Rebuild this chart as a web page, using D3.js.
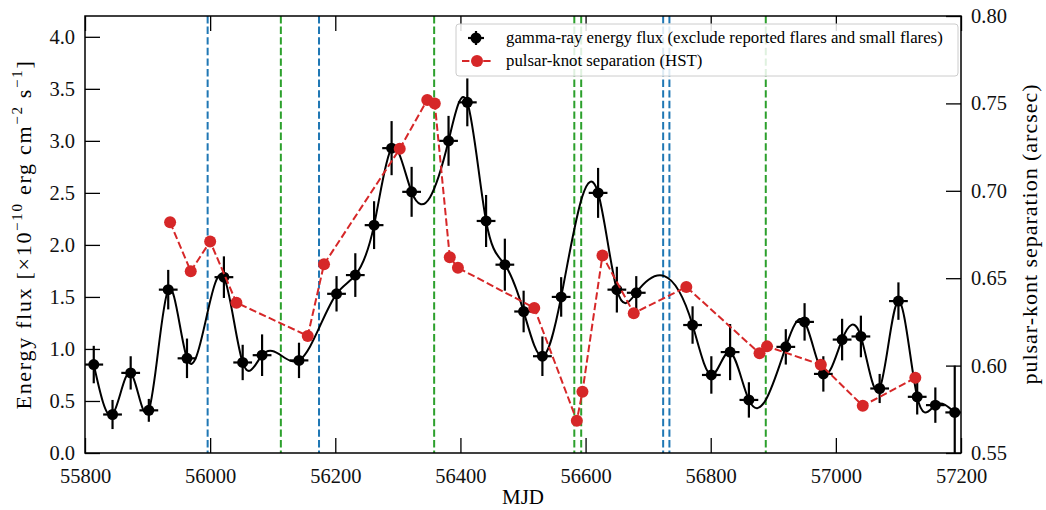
<!DOCTYPE html>
<html>
<head>
<meta charset="utf-8">
<script src="https://cdn.jsdelivr.net/npm/d3@7"></script>
<style>
  body { margin: 0; background: #fff; }
  text { font-family: "Liberation Serif", "DejaVu Serif", serif; }
</style>
</head>
<body>
<svg id="chart" width="1046" height="510"></svg>
<script>
// gamma-ray flux (30 day bins, flares removed)
var fluxMjd = [55814, 55844, 55873, 55902, 55933, 55963, 56022, 56052, 56083, 56142,
  56202, 56232, 56262, 56290, 56322, 56381, 56411, 56441, 56471, 56501,
  56531, 56561, 56620, 56650, 56681, 56771, 56801, 56831, 56861, 56920,
  56950, 56980, 57010, 57040, 57070, 57100, 57130, 57159, 57190];
var fluxVal = [0.85, 0.37, 0.77, 0.41, 1.57, 0.91, 1.69, 0.87, 0.94, 0.89,
  1.53, 1.71, 2.19, 2.93, 2.51, 3.00, 3.37, 2.23, 1.81, 1.36,
  0.93, 1.50, 2.50, 1.57, 1.54, 1.23, 0.75, 0.97, 0.51, 1.02,
  1.26, 0.76, 1.09, 1.12, 0.62, 1.46, 0.54, 0.46, 0.39];
var fluxErr = [0.18, 0.14, 0.16, 0.11, 0.19, 0.19, 0.20, 0.17, 0.20, 0.17,
  0.17, 0.21, 0.23, 0.26, 0.24, 0.24, 0.23, 0.25, 0.25, 0.20,
  0.19, 0.19, 0.24, 0.22, 0.16, 0.18, 0.18, 0.27, 0.17, 0.17,
  0.18, 0.17, 0.20, 0.20, 0.14, 0.18, 0.17, 0.17, 0.45];
var binHalf = 15;

// pulsar-knot separation (HST)
var sepMjd = [55936, 55969, 56000, 56042, 56156, 56182, 56303, 56347, 56359, 56383,
  56396, 56518, 56586, 56595, 56627, 56677, 56761, 56878, 56890, 56976,
  57043, 57127];
var sepVal = [0.682, 0.654, 0.671, 0.636, 0.617, 0.658, 0.724, 0.752, 0.750, 0.662,
  0.656, 0.633, 0.5685, 0.585, 0.663, 0.630, 0.645, 0.607, 0.611, 0.6005,
  0.577, 0.593];

var blueLines = [55996, 56174, 56724, 56734];
var greenLines = [56113, 56358, 56582, 56593, 56888];

var xTicks = [55800, 56000, 56200, 56400, 56600, 56800, 57000, 57200];
var yTicks = [0, 0.5, 1.0, 1.5, 2.0, 2.5, 3.0, 3.5, 4.0];
var y2Ticks = [0.55, 0.60, 0.65, 0.70, 0.75, 0.80];

var colBlue = "#1f77b4", colGreen = "#2ca02c", colRed = "#d62728";
var padL = 85, padR = 961, padT = 16, padB = 453;

var svg = d3.select("#chart");

var x = d3.scaleLinear().domain([55800, 57200]).range([padL, padR]);
var y = d3.scaleLinear().domain([0, 4.2]).range([padB, padT]);
var y2 = d3.scaleLinear().domain([0.55, 0.80]).range([padB, padT]);

svg.append("clipPath").attr("id", "clip")
  .append("rect").attr("x", padL).attr("y", padT)
  .attr("width", padR - padL).attr("height", padB - padT);

// natural cubic spline in x, drawn as bezier pieces
function curveSplineX(context) {
  var xs, ys;
  return {
    areaStart: function(){}, areaEnd: function(){},
    lineStart: function(){ xs = []; ys = []; },
    point: function(px, py){ xs.push(+px); ys.push(+py); },
    lineEnd: function(){
      var n = xs.length, i;
      var h = [], M = new Array(n).fill(0);
      for (i = 0; i < n - 1; i++) h.push(xs[i+1] - xs[i]);
      // tridiagonal solve for second derivatives
      var a = [], b = [], c = [], d = [];
      for (i = 1; i < n - 1; i++) {
        a.push(h[i-1]); b.push(2 * (h[i-1] + h[i])); c.push(h[i]);
        d.push(6 * ((ys[i+1] - ys[i]) / h[i] - (ys[i] - ys[i-1]) / h[i-1]));
      }
      var m = d.length;
      for (i = 1; i < m; i++) {
        var w = a[i] / b[i-1];
        b[i] -= w * c[i-1];
        d[i] -= w * d[i-1];
      }
      var sol = new Array(m);
      sol[m-1] = d[m-1] / b[m-1];
      for (i = m - 2; i >= 0; i--) sol[i] = (d[i] - c[i] * sol[i+1]) / b[i];
      for (i = 0; i < m; i++) M[i+1] = sol[i];
      context.moveTo(xs[0], ys[0]);
      for (i = 0; i < n - 1; i++) {
        var s = (ys[i+1] - ys[i]) / h[i];
        var d0 = s - h[i] * (2 * M[i] + M[i+1]) / 6;
        var d1 = s + h[i] * (M[i] + 2 * M[i+1]) / 6;
        context.bezierCurveTo(xs[i] + h[i] / 3, ys[i] + d0 * h[i] / 3,
          xs[i+1] - h[i] / 3, ys[i+1] - d1 * h[i] / 3, xs[i+1], ys[i+1]);
      }
    }
  };
}

var plot = svg.append("g").attr("clip-path", "url(#clip)");

// flare markers
plot.selectAll(".vb").data(blueLines).enter().append("line")
  .attr("x1", function(d){ return x(d); }).attr("x2", function(d){ return x(d); })
  .attr("y1", padT).attr("y2", padB)
  .attr("stroke", colBlue).attr("stroke-width", 2).attr("stroke-dasharray", "7.4,3.2");
plot.selectAll(".vg").data(greenLines).enter().append("line")
  .attr("x1", function(d){ return x(d); }).attr("x2", function(d){ return x(d); })
  .attr("y1", padT).attr("y2", padB)
  .attr("stroke", colGreen).attr("stroke-width", 2).attr("stroke-dasharray", "7.4,3.2");

var flux = fluxMjd.map(function(m, i){ return {m: m, v: fluxVal[i], e: fluxErr[i]}; });
var sep = sepMjd.map(function(m, i){ return {m: m, v: sepVal[i]}; });

plot.append("path").datum(flux)
  .attr("fill", "none").attr("stroke", "#000").attr("stroke-width", 2)
  .attr("d", d3.line().x(function(d){ return x(d.m); }).y(function(d){ return y(d.v); }).curve(curveSplineX));

var eb = plot.selectAll(".eb").data(flux).enter().append("g");
eb.append("line")
  .attr("x1", function(d){ return x(d.m); }).attr("x2", function(d){ return x(d.m); })
  .attr("y1", function(d){ return y(d.v - d.e); }).attr("y2", function(d){ return y(d.v + d.e); })
  .attr("stroke", "#000").attr("stroke-width", 2.2);
eb.append("line")
  .attr("x1", function(d){ return x(d.m - binHalf); }).attr("x2", function(d){ return x(d.m + binHalf); })
  .attr("y1", function(d){ return y(d.v); }).attr("y2", function(d){ return y(d.v); })
  .attr("stroke", "#000").attr("stroke-width", 2.2);
eb.append("circle")
  .attr("cx", function(d){ return x(d.m); }).attr("cy", function(d){ return y(d.v); })
  .attr("r", 5.5).attr("fill", "#000");

plot.append("path").datum(sep)
  .attr("fill", "none").attr("stroke", colRed).attr("stroke-width", 2)
  .attr("stroke-dasharray", "7.4,3.2")
  .attr("d", d3.line().x(function(d){ return x(d.m); }).y(function(d){ return y2(d.v); }));
plot.selectAll(".sp").data(sep).enter().append("circle")
  .attr("cx", function(d){ return x(d.m); }).attr("cy", function(d){ return y2(d.v); })
  .attr("r", 6).attr("fill", colRed);

// axes, ticks pointing in
function styleAxis(g) {
  g.select(".domain").remove();
  g.selectAll(".tick line").attr("stroke", "#000").attr("stroke-width", 1.3);
  g.selectAll(".tick text").attr("font-size", 20.5).attr("fill", "#111")
    .attr("font-family", "Liberation Serif, serif");
}
svg.append("g").attr("transform", "translate(0," + padB + ")")
  .call(d3.axisBottom(x).tickValues(xTicks).tickFormat(d3.format("d")).tickSize(-15).tickPadding(15))
  .call(styleAxis);
svg.append("g").attr("transform", "translate(0," + padT + ")")
  .call(d3.axisTop(x).tickValues(xTicks).tickFormat("").tickSize(-15))
  .call(styleAxis);
svg.append("g").attr("transform", "translate(" + padL + ",0)")
  .call(d3.axisLeft(y).tickValues(yTicks).tickFormat(d3.format(".1f")).tickSize(-15).tickPadding(10))
  .call(styleAxis);
svg.append("g").attr("transform", "translate(" + padR + ",0)")
  .call(d3.axisRight(y2).tickValues(y2Ticks).tickFormat(d3.format(".2f")).tickSize(-15).tickPadding(10))
  .call(styleAxis);

svg.append("rect").attr("x", padL).attr("y", padT)
  .attr("width", padR - padL).attr("height", padB - padT)
  .attr("fill", "none").attr("stroke", "#000").attr("stroke-width", 1.5);

// axis labels
svg.append("text").attr("x", (padL + padR) / 2).attr("y", 504)
  .attr("text-anchor", "middle").attr("font-size", 21).text("MJD");

var yl = svg.append("text")
  .attr("transform", "translate(31," + ((padT + padB) / 2) + ") rotate(-90)")
  .attr("text-anchor", "middle").attr("font-size", 22);
yl.append("tspan").text("Energy flux [\u00d710");
yl.append("tspan").attr("dy", -9).attr("font-size", 15).text("\u221210");
yl.append("tspan").attr("dy", 9).text(" erg cm");
yl.append("tspan").attr("dy", -9).attr("font-size", 15).text("\u22122");
yl.append("tspan").attr("dy", 9).text(" s");
yl.append("tspan").attr("dy", -9).attr("font-size", 15).text("\u22121");
yl.append("tspan").attr("dy", 9).text("]");
// stretch to the width of the original label
var ylLen = yl.node().getComputedTextLength();
var ylChars = yl.text().length;
yl.attr("letter-spacing", Math.max(0, (350 - ylLen) / ylChars));

svg.append("text")
  .attr("transform", "translate(1037," + ((padT + padB) / 2) + ") rotate(-90)")
  .attr("text-anchor", "middle").attr("font-size", 22)
  .attr("textLength", 300).attr("lengthAdjust", "spacing")
  .text("pulsar-kont separation (arcsec)");

// legend
var lg = svg.append("g");
lg.append("rect").attr("x", 456).attr("y", 24).attr("width", 502).attr("height", 52)
  .attr("rx", 3).attr("fill", "#fff").attr("fill-opacity", 0.85)
  .attr("stroke", "#ccc").attr("stroke-width", 1);
lg.append("line").attr("x1", 468).attr("x2", 484).attr("y1", 38).attr("y2", 38)
  .attr("stroke", "#000").attr("stroke-width", 2.2);
lg.append("line").attr("x1", 476).attr("x2", 476).attr("y1", 31).attr("y2", 45)
  .attr("stroke", "#000").attr("stroke-width", 2.2);
lg.append("circle").attr("cx", 476).attr("cy", 38).attr("r", 5.5).attr("fill", "#000");
lg.append("line").attr("x1", 462).attr("x2", 493).attr("y1", 61).attr("y2", 61)
  .attr("stroke", colRed).attr("stroke-width", 2).attr("stroke-dasharray", "7.4,3.2");
lg.append("circle").attr("cx", 477).attr("cy", 61).attr("r", 6).attr("fill", colRed);
lg.append("text").attr("x", 506).attr("y", 43).attr("font-size", 16.8)
  .text("gamma-ray energy flux (exclude reported flares and small flares)");
lg.append("text").attr("x", 506).attr("y", 66).attr("font-size", 16.8)
  .text("pulsar-knot separation (HST)");
</script>
</body>
</html>
